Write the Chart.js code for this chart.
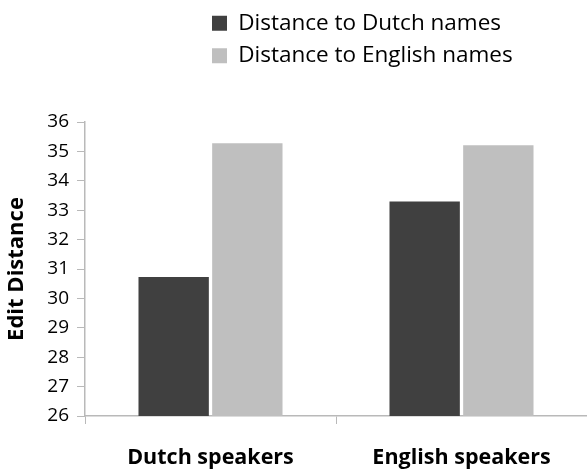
<!DOCTYPE html>
<html>
<head>
<meta charset="utf-8">
<script src="https://cdn.jsdelivr.net/npm/chart.js@4"></script>
<style>
    html, body { margin: 0; padding: 0; background: #fff; }
    #wrap { width: 587px; height: 473px; }
</style>
</head>
<body>
<div id="wrap"><canvas id="chart1"></canvas></div>
<script>
// data
const groups = ["Dutch speakers", "English speakers"];
const dutchNames = [30.73, 33.3];
const englishNames = [35.28, 35.21];
const seriesNames = ["Distance to Dutch names", "Distance to English names"];
const yTicks = [26, 27, 28, 29, 30, 31, 32, 33, 34, 35, 36];

const axisGrey = "#b9b9b9";
const fontName = "Open Sans";

/*
    legendBlock
    stacks the legend as a left aligned block in the upper right,
    and leaves space above the plot like the original
*/
const legendBlock = {
    id: "legendBlock",
    beforeLayout(chart) {
        const lg = chart.legend;
        if (lg && !lg._patched) {
            const fit = lg.fit;
            lg.fit = function () {
                fit.call(this);
                this.height = 120;
            };
            lg._patched = true;
        }
    },
    afterLayout(chart) {
        if (chart.legend) chart.legend.left = 202;
    }
};

const g1 = new Chart("chart1", {
    type: "bar",
    data: {
        labels: groups,
        datasets: [
            {
                label: seriesNames[0],
                data: dutchNames,
                backgroundColor: "#404040"
            },
            {
                label: seriesNames[1],
                data: englishNames,
                backgroundColor: "#bfbfbf"
            }
        ]
    },
    options: {
        responsive: true,
        maintainAspectRatio: false,
        animation: false,
        layout: { padding: { left: 0, right: -2, top: 2, bottom: 0 } },
        datasets: {
            bar: { categoryPercentage: 0.587, barPercentage: 0.955 }
        },
        plugins: {
            legend: {
                position: "top",
                align: "start",
                labels: {
                    boxWidth: 15,
                    boxHeight: 15,
                    padding: 10,
                    color: "#000",
                    font: { family: fontName, size: 22.5 }
                }
            },
            tooltip: { enabled: false }
        },
        scales: {
            x: {
                grid: {
                    drawOnChartArea: false,
                    tickLength: 8,
                    tickColor: axisGrey
                },
                border: { color: axisGrey, width: 1.5 },
                ticks: {
                    color: "#000",
                    padding: 21,
                    font: { family: fontName, size: 21.5, weight: "bold" }
                },
                afterFit(scale) { scale.height = 57; }
            },
            y: {
                min: 26,
                max: 36,
                afterBuildTicks(scale) {
                    scale.ticks = yTicks.map(v => ({ value: v }));
                },
                grid: {
                    drawOnChartArea: false,
                    tickLength: 8,
                    tickColor: axisGrey
                },
                border: { color: axisGrey, width: 1.5 },
                ticks: {
                    color: "#000",
                    padding: 8,
                    font: { family: fontName, size: 19 }
                },
                title: {
                    display: true,
                    text: "Edit Distance",
                    color: "#000",
                    padding: { top: 4, bottom: 0 },
                    font: { family: fontName, size: 22, weight: "bold" }
                },
                afterFit(scale) { scale.width = 85; }
            }
        }
    },
    plugins: [legendBlock]
});
</script>
</body>
</html>
